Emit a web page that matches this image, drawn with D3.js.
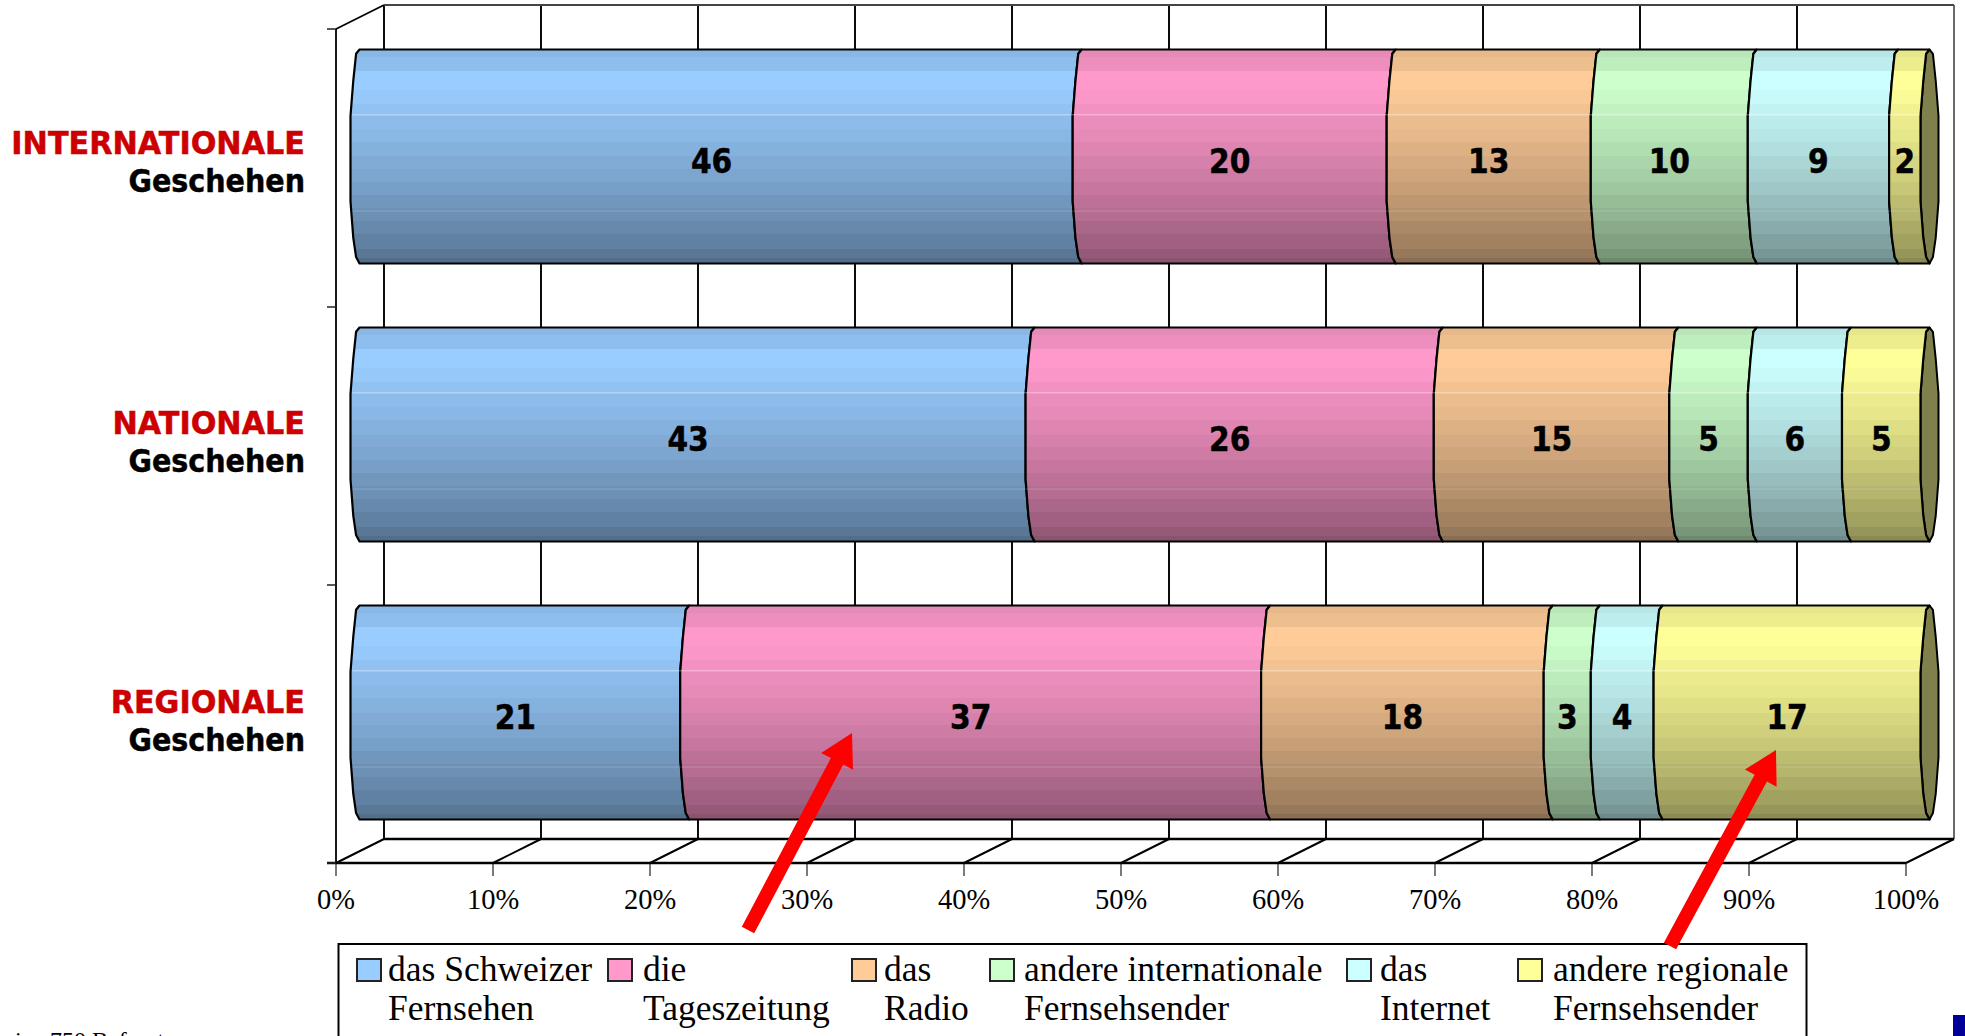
<!DOCTYPE html>
<html lang="de">
<head>
<meta charset="utf-8">
<title>Informationsquellen nach Geschehen</title>
<script src="https://cdn.jsdelivr.net/npm/d3@7"></script>
<style>
  html, body { margin: 0; padding: 0; background: #fff; overflow: hidden; }
  svg { display: block; }
  .bold { font-family: "DejaVu Sans", sans-serif; font-weight: 700; stroke-width: .5; }
  .serif { font-family: "Liberation Serif", serif; }
</style>
</head>
<body>
<svg id="chart" width="1965" height="1036"></svg>
<script>
// Survey shares in percent, one row per kind of news, top to bottom.
const regions = ["INTERNATIONALE", "NATIONALE", "REGIONALE"];
const subLabel = "Geschehen";
const sourceKeys = ["schweizerTv", "zeitung", "radio", "intTv", "internet", "regTv"];
const internationalValues = [46, 20, 13, 10, 9, 2];
const nationalValues = [43, 26, 15, 5, 6, 5];
const regionalValues = [21, 37, 18, 3, 4, 17];
const rowValues = [internationalValues, nationalValues, regionalValues];
const sourceColors = ["#99CCFF", "#FF99CC", "#FFCC99", "#CCFFCC", "#CCFFFF", "#FFFF99"];
const legendLines = [
  ["das Schweizer", "Fernsehen"],
  ["die", "Tageszeitung"],
  ["das", "Radio"],
  ["andere internationale", "Fernsehsender"],
  ["das", "Internet"],
  ["andere regionale", "Fernsehsender"]
];
const percentTicks = [0, 10, 20, 30, 40, 50, 60, 70, 80, 90, 100];

// Plot geometry of the oblique 3D frame.
const frontLeft = 336, frontRight = 1906, depthX = 48;
const frontTop = 29, frontBottom = 863, depthY = 24;
const barLeft = 350.5, barRight = 1920.5;
const barBand = { first: 49.5, height: 214, step: 278 };
const capRx = 9;

const svg = d3.select("#chart");
const xFront = d3.scaleLinear().domain([0, 100]).range([frontLeft, frontRight]);
const xBar = d3.scaleLinear().domain([0, 100]).range([barLeft, barRight]);
const yRow = d3.scaleBand().domain(regions)
  .range([frontTop, frontBottom]).paddingInner(0).paddingOuter(0);

// Brightness of the horizontal facets that fake the cylinder shading.
const facetStops = [
  [0, .90], [.035, .93], [.10, 1], [.19, .98], [.255, .95], [.31, .92], [.37, .90],
  [.43, .87], [.50, .84], [.56, .81], [.62, .78], [.68, .74], [.74, .71],
  [.80, .67], [.86, .63], [.93, .59], [.975, .54], [1, .54]
];
// Silhouette of a cylinder end: fraction of the height, and distance from the bulge in radii.
const endProfile = [[0, 1], [.02, .62], [.145, .31], [.31, 0], [.71, 0], [.88, .31], [.97, .62], [1, 1]];

const shade = (color, k) => {
  const c = d3.rgb(color);
  return d3.rgb(c.r * k, c.g * k, c.b * k).formatHex();
};

const defs = svg.append("defs");
sourceColors.forEach((color, i) => {
  const grad = defs.append("linearGradient")
    .attr("id", "facet" + i).attr("x1", 0).attr("x2", 0).attr("y1", 0).attr("y2", 1);
  facetStops.slice(0, -1).forEach(([offset, k], j) => {
    grad.append("stop").attr("offset", offset).attr("stop-color", shade(color, k));
    grad.append("stop").attr("offset", facetStops[j + 1][0]).attr("stop-color", shade(color, k));
  });
});

// Back wall, floor and grid.
const frame = svg.append("g").attr("fill", "none").attr("stroke", "#000");
percentTicks.forEach(t => {
  const x = xFront(t);
  frame.append("line").attr("x1", x + depthX).attr("x2", x + depthX)
    .attr("y1", frontTop - depthY).attr("y2", frontBottom - depthY)
    .attr("stroke-width", t === 100 ? 1.6 : 1.9)
    .attr("stroke", t === 100 ? "#444" : "#000");
  frame.append("line").attr("x1", x).attr("x2", x + depthX)
    .attr("y1", frontBottom).attr("y2", frontBottom - depthY).attr("stroke-width", 2);
  frame.append("line").attr("x1", x).attr("x2", x)
    .attr("y1", frontBottom).attr("y2", frontBottom + 13).attr("stroke-width", 1.2).attr("stroke", "#222");
});
frame.append("line").attr("x1", frontLeft + depthX).attr("x2", frontRight + depthX)
  .attr("y1", frontTop - depthY).attr("y2", frontTop - depthY).attr("stroke", "#444").attr("stroke-width", 2);
frame.append("line").attr("x1", frontLeft + depthX).attr("x2", frontRight + depthX)
  .attr("y1", frontBottom - depthY).attr("y2", frontBottom - depthY).attr("stroke-width", 2.6);
frame.append("line").attr("x1", frontLeft - 9).attr("x2", frontRight)
  .attr("y1", frontBottom).attr("y2", frontBottom).attr("stroke-width", 2.6);
frame.append("line").attr("x1", frontLeft).attr("x2", frontLeft)
  .attr("y1", frontTop).attr("y2", frontBottom).attr("stroke-width", 1.8);
frame.append("line").attr("x1", frontLeft).attr("x2", frontLeft + depthX)
  .attr("y1", frontTop).attr("y2", frontTop - depthY).attr("stroke-width", 1.8);
regions.concat("end").forEach((r, i) => {
  const y = i < regions.length ? yRow(r) : frontBottom;
  frame.append("line").attr("x1", frontLeft - 9).attr("x2", frontLeft)
    .attr("y1", y).attr("y2", y).attr("stroke-width", 1.5).attr("stroke", "#222");
});

// Axis labels along the front edge of the floor.
svg.append("g").selectAll("text").data(percentTicks).join("text")
  .attr("class", "serif").attr("x", d => xFront(d)).attr("y", 909)
  .attr("text-anchor", "middle").attr("font-size", 28.5).attr("fill", "#000")
  .text(d => d + "%");

// Points of one faceted cylinder end; side +1 bulges left of its rim, side -1 bulges right.
const endPoints = (xBulge, top, h, side) =>
  endProfile.map(([f, r]) => [xBulge + side * r * capRx, top + f * h]);

const outline = d3.line();

// Closed outline of the stretch of cylinder between two percentages.
const segmentPath = (v0, v1, top, h) => {
  const left = endPoints(xBar(v0), top, h, 1);
  const right = endPoints(xBar(v1), top, h, 1).reverse();
  return outline(left.concat(right)) + "Z";
};

// Bold label squeezed slightly narrower than the face's natural width.
const squeezedText = (parent, x, y, size, squeeze, anchor, fill, label) =>
  parent.append("text").attr("class", "bold")
    .attr("transform", `translate(${x},${y}) scale(${squeeze},1)`)
    .attr("text-anchor", anchor).attr("font-size", size).attr("fill", fill).attr("stroke", fill)
    .text(label);

// Stacked cylinders.
rowValues.forEach((values, row) => {
  const top = barBand.first + row * barBand.step;
  const h = barBand.height;
  const g = svg.append("g").attr("class", "row").attr("data-row", regions[row]);
  let acc = 0;
  const spans = values.map(v => { const s = [acc, acc + v]; acc += v; return s; });

  // End cap in the last colour, darkened.
  const capBulgeRight = xBar(100) + 2 * capRx;
  g.append("path")
    .attr("d", outline(endPoints(xBar(100), top, h, 1)
      .concat(endPoints(capBulgeRight, top, h, -1).reverse())) + "Z")
    .attr("fill", shade(sourceColors[5], .5)).attr("stroke", "#000").attr("stroke-width", 2)
    .attr("stroke-linejoin", "round");

  g.selectAll("path.seg").data(spans).join("path")
    .attr("class", "seg")
    .attr("d", d => segmentPath(d[0], d[1], top, h))
    .attr("fill", (d, i) => `url(#facet${i})`)
    .attr("stroke", "#000").attr("stroke-width", 2.2).attr("stroke-linejoin", "round");

  // Thin highlights running along the cylinder.
  [.305, .755].forEach((f, k) => {
    g.append("line")
      .attr("x1", xBar(0) + 2).attr("x2", xBar(100) - 1)
      .attr("y1", top + h * f).attr("y2", top + h * f)
      .attr("stroke", "#fff").attr("stroke-opacity", k ? .2 : .4).attr("stroke-width", 1);
  });

  spans.forEach((d, i) => {
    squeezedText(g, xBar((d[0] + d[1]) / 2), top + h / 2 + 16, 33, .9, "middle", "#000", values[i]);
  });
});

// Row captions.
const captions = svg.append("g");
const captionStep = 279.5, captionFirst = 154;
regions.forEach((r, i) => {
  const base = captionFirst + i * captionStep;
  squeezedText(captions, 305, base, 32, .945, "end", "#CC0000", r);
  squeezedText(captions, 305, base + 38, 32, .893, "end", "#000", subLabel);
});

// Legend box, running off the lower edge.
const legend = svg.append("g");
legend.append("rect").attr("x", 338.5).attr("y", 944).attr("width", 1468).attr("height", 120)
  .attr("fill", "#fff").attr("stroke", "#000").attr("stroke-width", 2);
const swatchX = d3.scaleOrdinal().domain(sourceKeys).range([357, 608, 852, 990, 1347, 1518]);
const legendTextX = d3.scaleOrdinal().domain(sourceKeys).range([388, 643, 884, 1024, 1380, 1553]);
sourceKeys.forEach((key, i) => {
  legend.append("rect").attr("x", swatchX(key)).attr("y", 959).attr("width", 24).attr("height", 22)
    .attr("fill", sourceColors[i]).attr("stroke", "#222").attr("stroke-width", 2);
  legendLines[i].forEach((line, k) => {
    legend.append("text").attr("class", "serif").attr("x", legendTextX(key))
      .attr("y", 981 + k * 39).attr("font-size", 35.5).attr("fill", "#000").text(line);
  });
});

// Red pointers from the legend to the highlighted regional values.
const pointer = d3.line();
const drawPointer = (from, to) => {
  const dx = to[0] - from[0], dy = to[1] - from[1], len = Math.hypot(dx, dy);
  const ux = dx / len, uy = dy / len, nx = -uy, ny = ux;
  const neck = [to[0] - ux * 32, to[1] - uy * 32];
  const at = (p, s) => [p[0] + nx * s, p[1] + ny * s];
  svg.append("path")
    .attr("d", pointer([at(from, 7), at(neck, 7), at(neck, 18), to, at(neck, -18), at(neck, -7), at(from, -7)]) + "Z")
    .attr("fill", "#FF0000");
};
drawPointer([748, 930], [852, 733]);
drawPointer([1670, 946], [1776, 750]);

// Sample note, cut by the lower edge of the page, and corner marker.
const note = svg.append("text").attr("class", "serif").attr("y", 1048)
  .attr("font-size", 24).attr("fill", "#000");
note.append("tspan").attr("x", 15).text("in");
note.append("tspan").attr("x", 50).text("750 Befragte");
svg.append("rect").attr("x", 1953).attr("y", 1015).attr("width", 12).attr("height", 21).attr("fill", "#000099");
</script>
</body>
</html>
